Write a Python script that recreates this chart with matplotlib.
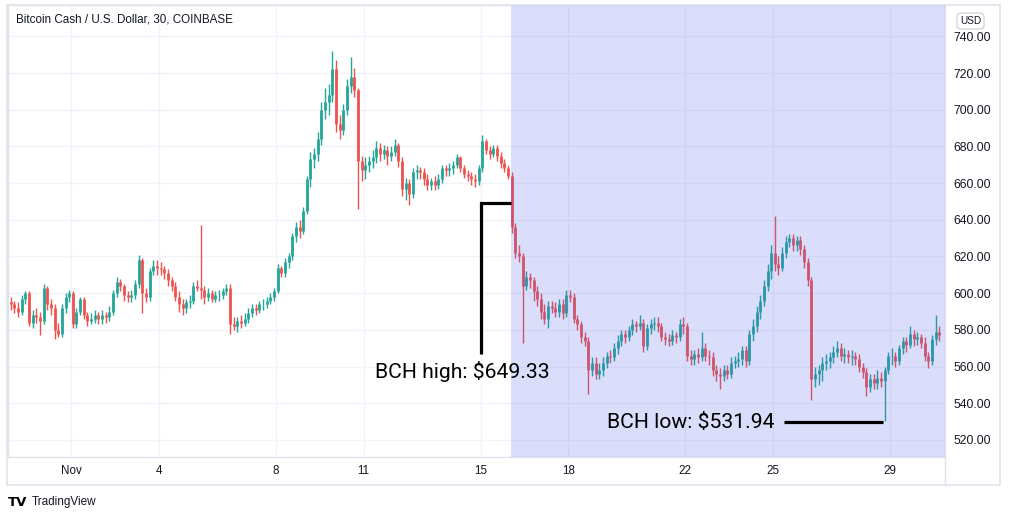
import pandas as pd
import matplotlib.pyplot as plt
from matplotlib.patches import Rectangle
from matplotlib.lines import Line2D

# 3-hour bars, first bar Oct 29 21:00
first_open = 595
closes_oct = [594,
              592, 590, 597, 600, 584, 588, 587, 585,    # Oct 30
              603, 594, 592, 580, 578, 592, 598, 600]    # Oct 31
highs_oct = [598,
             596, 595, 599, 601, 601, 591, 592, 590,
             605, 604, 597, 594, 584, 594, 600, 602]
lows_oct = [591,
            589, 587, 588, 594, 582, 581, 584, 577,
            583, 591, 588, 575, 576, 576, 589, 595]

closes_nov_1_7 = [583, 590, 597, 588, 585, 586, 588, 586,
                  588, 587, 590, 600, 606, 604, 599, 598,
                  599, 605, 618, 600, 598, 612, 615, 614,
                  613, 611, 607, 604, 598, 594, 592, 595,
                  596, 604, 603, 602, 598, 600, 597, 599,
                  599, 601, 603, 583, 582, 585, 584, 586,
                  589, 592, 591, 594, 594, 596, 598, 601]
highs_nov_1_7 = [601, 592, 598, 598, 590, 589, 591, 590,
                 591, 590, 593, 602, 609, 608, 605, 601,
                 602, 607, 621, 619, 603, 614, 618, 618,
                 617, 615, 613, 609, 606, 601, 597, 597,
                 599, 606, 607, 637, 604, 603, 602, 601,
                 602, 603, 605, 605, 587, 587, 588, 589,
                 592, 594, 594, 596, 597, 598, 600, 603]
lows_nov_1_7 = [581, 581, 588, 586, 582, 583, 584, 583,
                583, 584, 585, 588, 598, 601, 596, 595,
                595, 597, 603, 589, 595, 596, 610, 610,
                610, 608, 604, 601, 596, 590, 588, 589,
                592, 594, 601, 597, 594, 596, 595, 595,
                596, 597, 599, 578, 580, 579, 581, 582,
                584, 587, 588, 589, 591, 592, 594, 596]

closes_nov_8_14 = [614, 611, 617, 620, 631, 636, 634, 645,
                   662, 673, 676, 684, 700, 704, 708, 722,
                   692, 689, 700, 713, 718, 711, 672, 667,
                   670, 672, 674, 679, 676, 678, 675, 677,
                   681, 672, 657, 660, 654, 666, 667, 666,
                   662, 659, 661, 659, 662, 668, 667, 668,
                   670, 674, 668, 665, 664, 662, 661, 668]
highs_nov_8_14 = [616, 615, 619, 622, 633, 639, 640, 647,
                  664, 677, 679, 688, 704, 712, 714, 732,
                  727, 697, 703, 717, 729, 723, 712, 675,
                  674, 675, 678, 683, 682, 681, 680, 680,
                  684, 682, 674, 663, 662, 668, 670, 669,
                  668, 665, 663, 664, 665, 670, 670, 671,
                  672, 676, 675, 670, 667, 666, 665, 670]
lows_nov_8_14 = [600, 609, 609, 614, 618, 628, 630, 632,
                 643, 658, 668, 672, 681, 695, 697, 704,
                 688, 684, 686, 697, 709, 707, 646, 661,
                 662, 666, 668, 671, 672, 673, 670, 672,
                 675, 669, 653, 651, 648, 652, 662, 662,
                 659, 656, 656, 656, 657, 660, 664, 664,
                 665, 668, 666, 663, 661, 659, 658, 659]

closes_nov_15_21 = [683, 678, 676, 679, 675, 671, 668, 664,
                    636, 622, 620, 604, 609, 607, 601, 597,
                    590, 586, 593, 592, 590, 594, 589, 599,
                    598, 586, 583, 576, 574, 558, 562, 556,
                    558, 562, 566, 565, 570, 574, 578, 576,
                    580, 583, 582, 584, 571, 581, 583, 584,
                    582, 576, 575, 574, 577, 576, 583, 582]
highs_nov_15_21 = [686, 684, 680, 681, 681, 677, 673, 670,
                   666, 638, 626, 622, 612, 611, 609, 604,
                   600, 594, 596, 596, 595, 597, 597, 602,
                   602, 600, 588, 585, 579, 576, 565, 565,
                   562, 565, 568, 569, 573, 577, 580, 580,
                   582, 586, 585, 588, 586, 583, 586, 587,
                   587, 584, 579, 578, 580, 579, 586, 587]
lows_nov_15_21 = [666, 676, 673, 674, 672, 668, 666, 662,
                  633, 619, 617, 573, 602, 603, 596, 593,
                  586, 583, 581, 589, 587, 587, 586, 587,
                  595, 584, 580, 573, 571, 545, 555, 553,
                  553, 555, 559, 562, 563, 567, 571, 573,
                  574, 577, 579, 580, 568, 569, 578, 580,
                  579, 574, 572, 571, 572, 573, 574, 578]

closes_nov_22_30 = [566, 564, 567, 565, 570, 566, 565, 558,
                    556, 555, 558, 556, 562, 563, 564, 569,
                    563, 578, 582, 590, 596, 604, 612, 622,
                    616, 614, 622, 628, 630, 626, 629, 624,
                    617, 607, 553, 556, 558, 562, 563, 565,
                    568, 570, 566, 567, 565, 566, 564, 560,
                    557, 549, 553, 551, 554, 552, 558, 566,
                    566, 563, 570, 574, 572, 578, 575, 576,
                    573, 566, 563, 575, 579, 577]
highs_nov_22_30 = [584, 569, 569, 570, 579, 573, 569, 568,
                   561, 559, 561, 561, 565, 566, 568, 571,
                   571, 580, 586, 593, 599, 607, 616, 626,
                   642, 620, 625, 631, 632, 632, 631, 631,
                   626, 619, 609, 560, 561, 565, 567, 568,
                   571, 574, 573, 570, 569, 569, 568, 567,
                   562, 559, 556, 556, 558, 557, 560, 568,
                   570, 568, 572, 576, 576, 582, 580, 579,
                   578, 576, 568, 577, 588, 582]
lows_nov_22_30 = [563, 561, 561, 562, 563, 563, 561, 555,
                  552, 548, 552, 553, 554, 559, 560, 561,
                  560, 561, 574, 579, 586, 593, 601, 608,
                  612, 610, 612, 619, 625, 623, 623, 621,
                  614, 604, 542, 549, 550, 552, 558, 559,
                  562, 565, 563, 562, 562, 561, 561, 557,
                  554, 544, 546, 548, 548, 549, 530.5, 556,
                  561, 560, 561, 567, 568, 570, 571, 572,
                  570, 563, 559, 561, 572, 574]

price_ticks = [520, 540, 560, 580, 600, 620, 640, 660, 680, 700, 720, 740]
date_ticks = ["2021-11-01", "2021-11-04", "2021-11-08", "2021-11-11", "2021-11-15",
              "2021-11-18", "2021-11-22", "2021-11-25", "2021-11-29"]
date_labels = ["Nov", "4", "8", "11", "15", "18", "22", "25", "29"]

high_label, high_price = "BCH high: $649.33", 649.33
low_label, low_price = "BCH low: $531.94", 529.8

closes = closes_oct + closes_nov_1_7 + closes_nov_8_14 + closes_nov_15_21 + closes_nov_22_30
highs = highs_oct + highs_nov_1_7 + highs_nov_8_14 + highs_nov_15_21 + highs_nov_22_30
lows = lows_oct + lows_nov_1_7 + lows_nov_8_14 + lows_nov_15_21 + lows_nov_22_30
opens = [first_open] + closes[:-1]
starts = pd.date_range("2021-10-29 21:00", periods=len(closes), freq="3h")
df = pd.DataFrame({"open": opens, "high": highs, "low": lows, "close": closes}, index=starts)
x = df.index + pd.Timedelta(minutes=90)

UP, DOWN, TXT, BORDER = "#26a69a", "#ef5350", "#131722", "#e0e3eb"
colors = [UP if c >= o else DOWN for o, c in zip(df["open"], df["close"])]

fig = plt.figure(figsize=(10.1, 5.2), dpi=100)
ax = fig.add_axes([8 / 1010, 63 / 520, 937 / 1010, 452 / 520])

ax.vlines(x, df["low"], df["high"], colors=colors, lw=1.0, zorder=2)
ax.vlines(x, df[["open", "close"]].min(axis=1), df[["open", "close"]].max(axis=1),
          colors=colors, lw=2.0, zorder=2)

x_left, x_right = pd.Timestamp("2021-10-29 20:18"), pd.Timestamp("2021-11-30 21:07")
ax.set_xlim(x_left, x_right)
ax.set_ylim(510.7, 757.1)

# highlighted range after the top
ax.axvspan(pd.Timestamp("2021-11-16 00:45"), x_right, color="#4a5be6", alpha=0.2, lw=0, zorder=3)

# annotations
t_hi = pd.Timestamp("2021-11-15 00:00")
ax.plot([t_hi, t_hi, pd.Timestamp("2021-11-16 01:00")], [566.9, high_price, high_price],
        color="black", lw=2.3, zorder=5, solid_joinstyle="miter", solid_capstyle="butt")
ax.text(pd.Timestamp("2021-11-11 09:20"), 557.1, high_label, fontsize=15.2,
        family="Roboto", color="black", va="center", ha="left", zorder=6)
ax.plot([pd.Timestamp("2021-11-25 09:20"), pd.Timestamp("2021-11-28 18:30")], [low_price, low_price],
        color="black", lw=2.3, zorder=5, solid_capstyle="butt")
ax.text(pd.Timestamp("2021-11-19 08:00"), 529.6, low_label, fontsize=15.2,
        family="Roboto", color="black", va="center", ha="left", zorder=6)

# axes styling
ax.yaxis.tick_right()
ax.set_yticks(price_ticks)
ax.set_yticklabels([f"{p:.2f}" for p in price_ticks])
ax.set_xticks(pd.to_datetime(date_ticks))
ax.set_xticklabels(date_labels)
ax.tick_params(axis="y", length=0, pad=5.8, labelsize=8.8, labelcolor=TXT)
ax.tick_params(axis="x", length=0, pad=5.5, labelsize=8.4, labelcolor=TXT)
for lab in ax.get_xticklabels() + ax.get_yticklabels():
    lab.set_family("Liberation Sans")
ax.grid(color="#f0f3fa", lw=1, zorder=0)
ax.set_axisbelow(True)
for s in ax.spines.values():
    s.set_color(BORDER)
    s.set_linewidth(1)

# outer frame of the widget
fig.add_artist(Rectangle((7 / 1010, 1 - 485 / 520), 993 / 1010, 480 / 520, transform=fig.transFigure,
                         fill=False, ec=BORDER, lw=1.2))
fig.add_artist(Line2D([945 / 1010, 945 / 1010], [1 - 457 / 520, 1 - 485 / 520],
                      transform=fig.transFigure, color=BORDER, lw=1))

fig.text(16 / 1010, 1 - 20 / 520, "Bitcoin Cash / U.S. Dollar, 30, COINBASE", fontsize=8.4,
         family="Liberation Sans", color=TXT, va="center", ha="left")
fig.text(970.5 / 1010, 1 - 21 / 520, "USD", fontsize=7.2, family="Liberation Sans", color=TXT,
         va="center", ha="center",
         bbox=dict(boxstyle="round,pad=0.3,rounding_size=0.4", fc="white", ec="#c9ccd4", lw=0.8))

fig.text(8 / 1010, 1 - 502 / 520, "TV", fontsize=9.5, fontweight="heavy", color="black",
         va="center", ha="left")
fig.text(32 / 1010, 1 - 502 / 520, "TradingView", fontsize=8.5, family="Liberation Sans",
         color=TXT, va="center", ha="left")

fig.savefig("out.png", dpi=100, facecolor="white")
